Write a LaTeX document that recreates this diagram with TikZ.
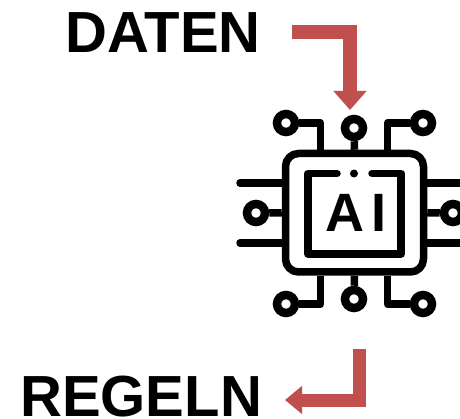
\documentclass[tikz,border=0pt]{standalone}
\usepackage{fontspec}
\setmainfont{Liberation Sans}
\usetikzlibrary{calc}
\usetikzlibrary{arrows.meta}

\definecolor{flowred}{HTML}{C0504D}

\begin{document}
\begin{tikzpicture}[x=1pt, y=-1pt]
    \tikzstyle{label}=[inner sep=0pt, anchor=base west, font=\bfseries\fontsize{58}{60}\selectfont]
    \tikzstyle{flow}=[draw=flowred, line join=miter]
    \tikzstyle{wire}=[draw=black, line width=7.5pt, line join=round]
    \tikzstyle{pad}=[draw=black, circle, line width=8.5pt, minimum size=18pt, inner sep=0pt]

    \useasboundingbox (0, 0) rectangle (460, 419);
    \clip (0, 0) rectangle (460, 419);

    % Labels
    \node[label] (daten) at (65, 53) {DATEN};
    \node[label] (regeln) at (20, 416.5) {REGELN};

    % Arrows
    \coordinate (datenstart) at (292, 32);
    \coordinate (datenend) at (350, 110);
    \coordinate (regelnstart) at (359, 349);
    \coordinate (regelnend) at (285, 400);
    \draw[flow, line width=14pt, -{Triangle[length=19pt, width=32pt]}] (datenstart) -| (datenend);
    \draw[flow, line width=13pt, -{Triangle[length=17pt, width=27pt]}] (regelnstart) |- (regelnend);

    % Chip
    \node[wire, rounded corners=13pt, minimum width=138pt, minimum height=118.5pt, inner sep=0pt] (chip) at (354.5, 212.75) {};
    \draw[wire, line cap=round]
      (337, 173.5) -- (308, 173.5) -- (308, 254) -- (401, 254) -- (401, 173.5) -- (372, 173.5);
    \node[fill=black, circle, minimum size=8pt, inner sep=0pt] (dot) at (354, 173.5) {};
    \node[inner sep=0pt, font=\bfseries\fontsize{54}{56}\selectfont] (ai) at (356, 213) {A\kern8pt I};

    % Top pads
    \node[pad] (padtl) at (286, 123) {};
    \node[pad] (padtc) at (354, 128) {};
    \node[pad] (padtr) at (423, 123) {};
    \draw[wire] (padtl) -| ($(chip.north) + (-34, 0)$);
    \draw[wire] (padtc) -- (chip.north);
    \draw[wire] (padtr) -| ($(chip.north) + (33, 0)$);

    % Bottom pads
    \node[pad] (padbl) at (286, 304) {};
    \node[pad] (padbc) at (354, 299) {};
    \node[pad] (padbr) at (423, 304) {};
    \draw[wire] (padbl) -| ($(chip.south) + (-34, 0)$);
    \draw[wire] (padbc) -- (chip.south);
    \draw[wire] (padbr) -| ($(chip.south) + (33, 0)$);

    % Left pins
    \node[pad] (padl) at (256, 213) {};
    \coordinate (pinlt) at (240, 183);
    \coordinate (pinlb) at (240, 243);
    \draw[wire] (padl) -- (chip.west);
    \draw[wire, line cap=round] (pinlt) -- (pinlt -| chip.west);
    \draw[wire, line cap=round] (pinlb) -- (pinlb -| chip.west);

    % Right pins
    \node[pad] (padr) at (453, 213) {};
    \coordinate (pinrt) at (470, 183);
    \coordinate (pinrb) at (470, 243);
    \draw[wire] (padr) -- (chip.east);
    \draw[wire] (pinrt) -- (pinrt -| chip.east);
    \draw[wire] (pinrb) -- (pinrb -| chip.east);
\end{tikzpicture}
\end{document}
